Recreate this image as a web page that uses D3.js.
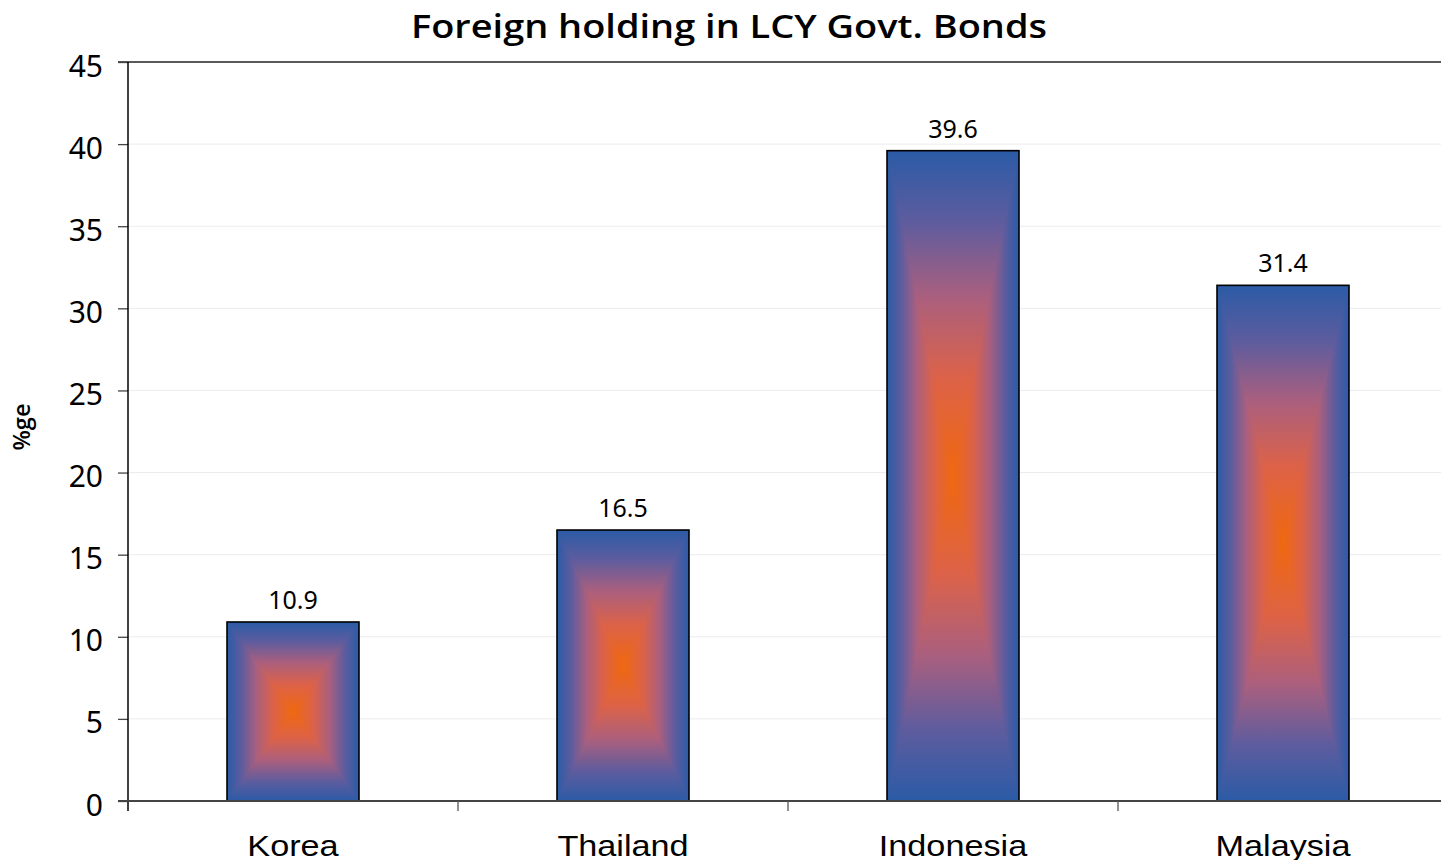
<!DOCTYPE html>
<html>
<head>
<meta charset="utf-8">
<script src="https://cdn.jsdelivr.net/npm/d3@7/dist/d3.min.js"></script>
<style>
  html, body { margin: 0; padding: 0; background: #fff; }
  svg { display: block; }
</style>
</head>
<body>
<svg id="chart" width="1441" height="860"></svg>
<script>
// Foreign holding in local-currency government bonds, % of total
const categories = ["Korea", "Thailand", "Indonesia", "Malaysia"];
const values = [10.9, 16.5, 39.6, 31.4];
const yTicks = [0, 5, 10, 15, 20, 25, 30, 35, 40, 45];

const svg = d3.select("#chart");
const W = 1441, H = 860;
const plot = { left: 128, right: 1448, top: 62, bottom: 801 };

const x = d3.scaleBand()
  .domain(categories)
  .range([plot.left, plot.right])
  .paddingInner(0.6)
  .paddingOuter(0.3);

const y = d3.scaleLinear().domain([0, 45]).range([plot.bottom, plot.top]);

// Title
svg.append("text")
  .attr("x", 729).attr("y", 38)
  .attr("text-anchor", "middle")
  .attr("font-family", "'Open Sans', 'Noto Sans', sans-serif")
  .attr("font-weight", 600)
  .attr("font-size", 33)
  .attr("textLength", 636)
  .attr("lengthAdjust", "spacingAndGlyphs")
  .attr("fill", "#000")
  .text("Foreign holding in LCY Govt. Bonds");

// Horizontal gridlines
svg.append("g")
  .selectAll("line")
  .data(yTicks.filter(t => t > 0 && t < 45))
  .join("line")
  .attr("x1", plot.left).attr("x2", W)
  .attr("y1", d => y(d)).attr("y2", d => y(d))
  .attr("stroke", "#ececec")
  .attr("stroke-width", 1);

// Top border of the plot area
svg.append("line")
  .attr("x1", plot.left - 10).attr("x2", W)
  .attr("y1", y(45)).attr("y2", y(45))
  .attr("stroke", "#222").attr("stroke-width", 1.6);

// Y axis
const yAxis = d3.axisLeft(y).tickValues(yTicks).tickSize(10).tickPadding(15);
const gy = svg.append("g").attr("transform", `translate(${plot.left},0)`).call(yAxis);
gy.select(".domain").remove();
gy.selectAll(".tick line").attr("stroke", "#444").attr("stroke-width", 1.3);
gy.selectAll(".tick text")
  .attr("font-family", "'Noto Sans', 'Open Sans', sans-serif")
  .attr("font-size", 30)
  .attr("fill", "#000")
  .attr("dy", null)
  .attr("y", 14);

svg.append("line")
  .attr("x1", plot.left).attr("x2", plot.left)
  .attr("y1", y(45)).attr("y2", plot.bottom + 10)
  .attr("stroke", "#000").attr("stroke-width", 1.5);

// Y axis title
svg.append("text")
  .attr("transform", "translate(30,427) rotate(-90)")
  .attr("text-anchor", "middle")
  .attr("font-family", "'Open Sans', 'Noto Sans', sans-serif")
  .attr("font-weight", 600)
  .attr("font-size", 24)
  .attr("textLength", 47)
  .attr("lengthAdjust", "spacingAndGlyphs")
  .text("%ge");

// Box-shaped gradient: blue at the edges, orange at the centre
const stops = [
  [0, "#2b5ba6"], [0.22, "#5e5c9e"], [0.45, "#aa5f7e"],
  [0.7, "#dc6248"], [1, "#f0680f"]
];
const defs = svg.append("defs");
function grad(id, x1, y1, x2, y2) {
  const g = defs.append("linearGradient")
    .attr("id", id)
    .attr("gradientUnits", "userSpaceOnUse")
    .attr("x1", x1).attr("y1", y1).attr("x2", x2).attr("y2", y2);
  stops.forEach(s => g.append("stop").attr("offset", s[0]).attr("stop-color", s[1]));
}

const bars = svg.append("g");
categories.forEach((c, i) => {
  const x0 = x(c), x1 = x(c) + x.bandwidth();
  const y0 = y(values[i]), y1 = y(0);
  const cx = (x0 + x1) / 2, cy = (y0 + y1) / 2;
  const id = "g" + i;
  grad(id + "t", 0, y0, 0, cy);
  grad(id + "b", 0, y1, 0, cy);
  grad(id + "l", x0, 0, cx, 0);
  grad(id + "r", x1, 0, cx, 0);
  const g = bars.append("g");
  const tri = [
    [[x0, y0], [x1, y0], [cx, cy], "t"],
    [[x0, y1], [x1, y1], [cx, cy], "b"],
    [[x0, y0], [x0, y1], [cx, cy], "l"],
    [[x1, y0], [x1, y1], [cx, cy], "r"]
  ];
  tri.forEach(t => {
    g.append("path")
      .attr("d", d3.line()([t[0], t[1], t[2]]) + "Z")
      .attr("fill", `url(#${id}${t[3]})`)
      .attr("shape-rendering", "crispEdges");
  });
  g.append("rect")
    .attr("x", x0).attr("y", y0)
    .attr("width", x1 - x0).attr("height", y1 - y0)
    .attr("fill", "none")
    .attr("stroke", "#000").attr("stroke-width", 1.6);

  // Value label
  svg.append("text")
    .attr("x", cx).attr("y", y0 - 13)
    .attr("text-anchor", "middle")
    .attr("font-family", "'Noto Sans', 'Open Sans', sans-serif")
    .attr("font-size", 25)
    .attr("fill", "#000")
    .text(values[i].toFixed(1));
});

// X axis
svg.append("line")
  .attr("x1", plot.left - 10).attr("x2", W)
  .attr("y1", plot.bottom).attr("y2", plot.bottom)
  .attr("stroke", "#444").attr("stroke-width", 2);

svg.append("g")
  .selectAll("line")
  .data(categories.slice(1))
  .join("line")
  .attr("x1", d => x(d) - x.step() * x.paddingInner() / 2)
  .attr("x2", d => x(d) - x.step() * x.paddingInner() / 2)
  .attr("y1", plot.bottom).attr("y2", plot.bottom + 10)
  .attr("stroke", "#555").attr("stroke-width", 1.3);

// Category labels
svg.append("g")
  .selectAll("text")
  .data(categories)
  .join("text")
  .attr("transform", d => `translate(${x(d) + x.bandwidth() / 2},856) scale(1.18,1)`)
  .attr("text-anchor", "middle")
  .attr("font-family", "'Liberation Sans', Arial, sans-serif")
  .attr("font-size", 29)
  .attr("fill", "#000")
  .text(d => d);
</script>
</body>
</html>
